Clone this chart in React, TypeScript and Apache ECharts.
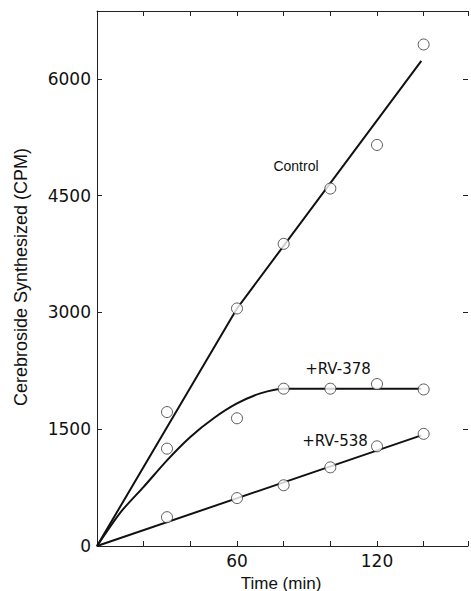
import React, { useEffect, useRef } from "react";
import * as echarts from "echarts";

// Measured data points (Time in min, Cerebroside in CPM)
const timePoints = [30, 60, 80, 100, 120, 140];
const controlValues = [1720, 3050, 3880, 4590, 5150, 6440];
const rv378Values = [1250, 1640, 2020, 2020, 2080, 2010];
const rv538Values = [370, 615, 780, 1010, 1280, 1440];

// Drawn fitted curves
const controlFitX = [0, 60, 139];
const controlFitY = [0, 3050, 6230];
const rv378FitX = [0, 10, 20, 30, 40, 50, 60, 70, 80, 100, 120, 139];
const rv378FitY = [0, 430, 760, 1100, 1400, 1640, 1830, 1960, 2020, 2020, 2020, 2020];
const rv538FitX = [0, 139];
const rv538FitY = [0, 1420];

const xLabels = [60, 120];
const yLabels = [0, 1500, 3000, 4500, 6000];

const zip = (xs: number[], ys: number[]) => xs.map((x, i) => [x, ys[i]]);

export default function App() {
  const ref = useRef<HTMLDivElement>(null);
  useEffect(() => {
    if (!ref.current) return;
    const chart = echarts.init(ref.current, null, { renderer: "svg" });
    const axisCol = "#222";
    const tickFont = { fontFamily: "DejaVu Sans", fontSize: 17, color: "#111" };
    const lineSeries = (name: string, xs: number[], ys: number[], smooth: boolean) => ({
      name,
      type: "line",
      data: zip(xs, ys),
      showSymbol: false,
      smooth: smooth ? 0.25 : false,
      lineStyle: { color: "#111", width: 2 },
      z: 2,
    });
    const pointSeries = (name: string, ys: number[]) => ({
      name,
      type: "scatter",
      data: zip(timePoints, ys),
      symbol: "circle",
      symbolSize: 11,
      itemStyle: { color: "#fff", borderColor: "#333", borderWidth: 1 },
      z: 3,
    });
    const mkLine = () => ({ show: true, onZero: false, lineStyle: { color: axisCol, width: 1 } });
    const mkTick = () => ({ show: true, inside: true, length: 5, lineStyle: { color: axisCol, width: 1 } });
    chart.setOption({
      animation: false,
      backgroundColor: "#fff",
      grid: {
        left: 97,
        right: 0,
        top: 11,
        bottom: 45,
        containLabel: false,
      },
      xAxis: [
        {
          type: "value",
          min: 0,
          max: 159,
          interval: 20,
          position: "bottom",
          axisLine: mkLine(),
          axisTick: mkTick(),
          splitLine: { show: false },
          axisLabel: {
            ...tickFont,
            margin: 6,
            formatter: (v: number) => (xLabels.includes(v) ? String(v) : ""),
          },
        },
        {
          type: "value",
          min: 0,
          max: 159,
          interval: 20,
          position: "top",
          axisLine: mkLine(),
          axisTick: mkTick(),
          splitLine: { show: false },
          axisLabel: { show: false },
        },
      ],
      yAxis: [
        {
          type: "value",
          min: 0,
          max: 6870,
          interval: 1500,
          position: "left",
          axisLine: mkLine(),
          axisTick: mkTick(),
          splitLine: { show: false },
          axisLabel: {
            ...tickFont,
            margin: 6,
            formatter: (v: number) => (yLabels.includes(v) ? String(v) : ""),
          },
        },
        {
          type: "value",
          min: 0,
          max: 6870,
          interval: 1500,
          position: "right",
          axisLine: { show: false, onZero: false, lineStyle: { color: "rgba(0,0,0,0)", width: 0, opacity: 0 } },
          axisTick: mkTick(),
          splitLine: { show: false },
          axisLabel: { show: false },
        },
      ],
      series: [
        lineSeries("Control fit", controlFitX, controlFitY, false),
        lineSeries("+RV-378 fit", rv378FitX, rv378FitY, true),
        lineSeries("+RV-538 fit", rv538FitX, rv538FitY, false),
        pointSeries("Control", controlValues),
        pointSeries("+RV-378", rv378Values),
        pointSeries("+RV-538", rv538Values),
      ],
      graphic: [
        {
          type: "text",
          x: 296,
          y: 166,
          style: {
            text: "Control",
            fontFamily: "Liberation Sans",
            fontSize: 14,
            fill: "#111",
            align: "center",
            verticalAlign: "middle",
          },
        },
        {
          type: "text",
          x: 338,
          y: 369,
          style: {
            text: "+RV-378",
            fontFamily: "DejaVu Sans",
            fontSize: 15,
            fill: "#111",
            align: "center",
            verticalAlign: "middle",
          },
        },
        {
          type: "text",
          x: 335,
          y: 441,
          style: {
            text: "+RV-538",
            fontFamily: "DejaVu Sans",
            fontSize: 15,
            fill: "#111",
            align: "center",
            verticalAlign: "middle",
          },
        },
        {
          type: "text",
          x: 281,
          y: 583,
          style: {
            text: "Time (min)",
            fontFamily: "Liberation Sans",
            fontSize: 17,
            fill: "#111",
            align: "center",
            verticalAlign: "middle",
          },
        },
        {
          type: "text",
          x: 21,
          y: 277,
          rotation: Math.PI / 2,
          style: {
            text: "Cerebroside Synthesized (CPM)",
            fontFamily: "Liberation Sans",
            fontSize: 18,
            fill: "#111",
            align: "center",
            verticalAlign: "middle",
          },
        },
      ],
    });
    return () => chart.dispose();
  }, []);
  return (
    <div
      ref={ref}
      style={{ position: "fixed", left: 0, top: 0, width: 471, height: 591, background: "#fff" }}
    />
  );
}
